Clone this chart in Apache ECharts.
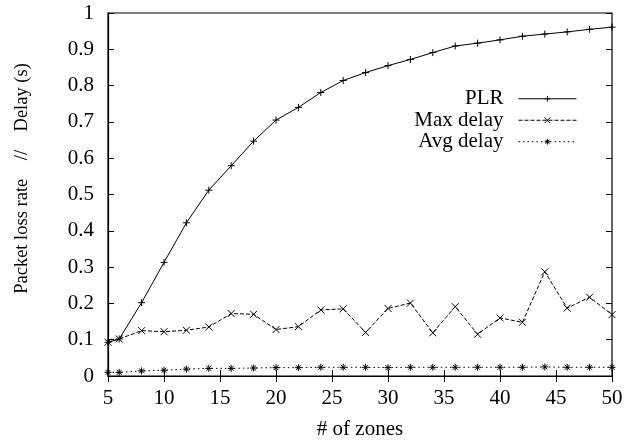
<!DOCTYPE html>
<html><head><meta charset="utf-8">
<script src="https://cdn.jsdelivr.net/npm/echarts@6/dist/echarts.min.js"></script>
<style>html,body{margin:0;padding:0;background:#fff}#c{width:626px;height:445px}</style>
</head><body><div id="c"></div>
<script>
var zones = [5,6,8,10,12,14,16,18,20,22,24,26,28,30,32,34,36,38,40,42,44,46,48,50];
var plr = [0.093,0.102,0.202,0.313,0.422,0.512,0.579,0.647,0.705,0.740,0.781,0.814,0.836,0.855,0.872,0.891,0.909,0.917,0.926,0.936,0.942,0.948,0.955,0.961];
var maxDelay = [0.093,0.102,0.125,0.122,0.126,0.135,0.172,0.170,0.128,0.136,0.182,0.185,0.120,0.186,0.201,0.119,0.191,0.115,0.160,0.148,0.287,0.187,0.217,0.169];
var avgDelay = [0.010,0.010,0.014,0.016,0.019,0.021,0.021,0.022,0.023,0.023,0.024,0.024,0.024,0.023,0.024,0.024,0.024,0.024,0.024,0.024,0.025,0.024,0.024,0.024];
var seriesNames = ['PLR','Max delay','Avg delay'];
var xTicks = [5,10,15,20,25,30,35,40,45,50];
var yTicks = [0,0.1,0.2,0.3,0.4,0.5,0.6,0.7,0.8,0.9,1];

function pairs(ys){ return zones.map(function(x,i){ return [x, ys[i]]; }); }
var FONT = '"Liberation Serif","DejaVu Serif",serif';
var FS = 21;
var plus = 'path://M0,5L10,5M5,0L5,10';
var cross = 'path://M1,1L9,9M9,1L1,9';
var star = 'path://M0,5L10,5M5,0L5,10M1.5,1.5L8.5,8.5M8.5,1.5L1.5,8.5';

var chart = echarts.init(document.getElementById('c'), null, {renderer:'canvas'});
var tickStyle = {show:true, inside:true, length:6, lineStyle:{color:'#000', width:1}};
chart.setOption({
  animation:false,
  backgroundColor:'#fff',
  textStyle:{fontFamily:FONT, color:'#000'},
  grid:{left:108, right:14, top:13, bottom:69, show:true, borderColor:'#000', borderWidth:1.2, backgroundColor:'transparent'},
  legend:{
    orient:'vertical', align:'right', right:44, top:83,
    itemWidth:58, itemHeight:7, itemGap:0,
    lineStyle:{width:1},
    itemStyle:{borderWidth:1},
    textStyle:{fontFamily:FONT, fontSize:FS, lineHeight:21.5, color:'#000', padding:[0,10,0,0]},
    data:seriesNames
  },
  xAxis:[{
    type:'value', min:5, max:50, interval:5,
    name:'# of zones', nameLocation:'middle', nameGap:43,
    nameTextStyle:{fontFamily:FONT, fontSize:FS, color:'#000'},
    axisLine:{show:true, lineStyle:{color:'#000', width:1.2}},
    axisTick:tickStyle,
    axisLabel:{fontFamily:FONT, fontSize:FS, color:'#000', margin:12,
      formatter:function(v){ return xTicks.indexOf(v) >= 0 ? String(v) : ''; }},
    splitLine:{show:false}
  },{
    type:'value', position:'top', min:5, max:50, interval:5,
    axisLine:{show:false}, axisTick:tickStyle, axisLabel:{show:false}, splitLine:{show:false}
  }],
  yAxis:[{
    type:'value', min:0, max:1, interval:0.1,
    name:'Packet loss rate    //    Delay (s)', nameLocation:'middle', nameGap:76,
    nameTextStyle:{fontFamily:FONT, fontSize:18.5, color:'#000', padding:[0,0,0,32]},
    axisLine:{show:true, lineStyle:{color:'#000', width:1.2}},
    axisTick:tickStyle,
    axisLabel:{fontFamily:FONT, fontSize:FS, color:'#000', margin:14,
      formatter:function(v){ var r = Math.round(v*10)/10; return String(r); }},
    splitLine:{show:false}
  },{
    type:'value', position:'right', min:0, max:1, interval:0.1,
    axisLine:{show:false}, axisTick:tickStyle, axisLabel:{show:false}, splitLine:{show:false}
  }],
  series:[
    {name:seriesNames[0], type:'line', data:pairs(plr), symbol:plus, symbolSize:7,
     color:'#000', lineStyle:{color:'#000', width:1, type:'solid'},
     itemStyle:{color:'none', borderColor:'#000', borderWidth:1}},
    {name:seriesNames[1], type:'line', data:pairs(maxDelay), symbol:cross, symbolSize:7,
     color:'#000', lineStyle:{color:'#000', width:1, type:[4,2]},
     itemStyle:{color:'none', borderColor:'#000', borderWidth:1}},
    {name:seriesNames[2], type:'line', data:pairs(avgDelay), symbol:star, symbolSize:7,
     color:'#000', lineStyle:{color:'#000', width:1, type:[1.5,3]},
     itemStyle:{color:'none', borderColor:'#000', borderWidth:1}}
  ]
});
</script></body></html>
